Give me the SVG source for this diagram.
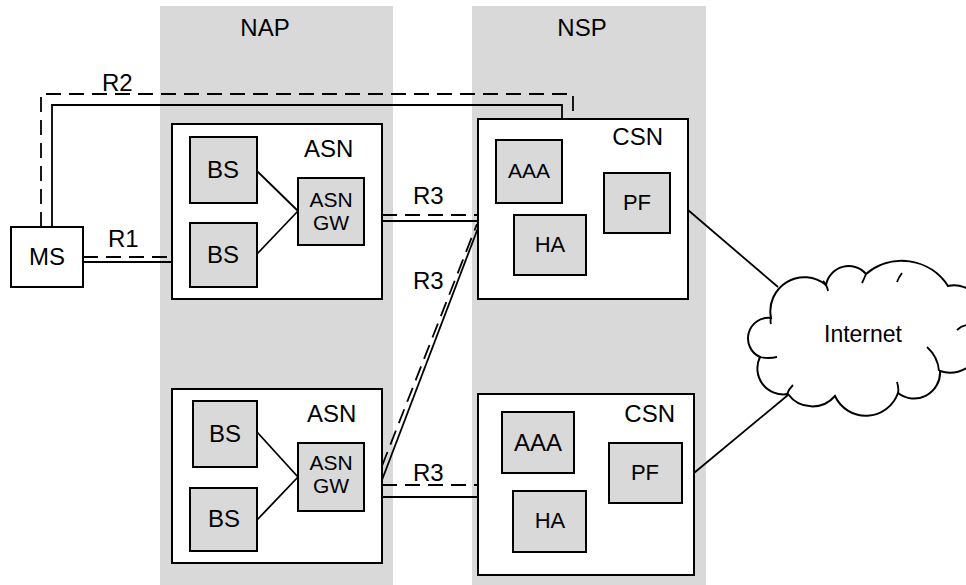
<svg xmlns="http://www.w3.org/2000/svg" width="966" height="585" viewBox="0 0 966 585">
<style>
text{font-family:"Liberation Sans",Arial,sans-serif;fill:#000}
.band{fill:#d9d9d9}
.box{fill:#fff;stroke:#000;stroke-width:2}
.el{fill:#d9d9d9;stroke:#000;stroke-width:2}
.ln{fill:none;stroke:#000;stroke-width:1.8}
.ds{fill:none;stroke:#000;stroke-width:1.8;stroke-dasharray:15 8}
.big{font-size:24px}
.mid{font-size:22px}
.c{text-anchor:middle}
.e{text-anchor:end}
</style>
<g id="bands">
<rect class="band" x="160" y="6" width="233" height="579"/>
<rect class="band" x="472" y="6" width="234" height="579"/>
<text class="big c" x="265" y="36">NAP</text>
<text class="big c" x="582" y="36">NSP</text>
</g>
<g id="connectors">
<path class="ds" d="M41,227 V94 H573 V119"/>
<path class="ln" d="M52,227 V105 H562 V119"/>
<line class="ds" x1="83" y1="257" x2="172" y2="257"/>
<line class="ln" x1="83" y1="262" x2="172" y2="262"/>
<line class="ds" x1="382" y1="215" x2="478" y2="215"/>
<line class="ln" x1="382" y1="221" x2="478" y2="221"/>
<line class="ds" x1="382" y1="466" x2="477" y2="224"/>
<line class="ln" x1="382" y1="480" x2="478" y2="228"/>
<line class="ds" x1="382" y1="485" x2="478" y2="485"/>
<line class="ln" x1="382" y1="497" x2="478" y2="497"/>
<line class="ln" x1="688" y1="210" x2="778" y2="287"/>
<line class="ln" x1="694" y1="473" x2="788" y2="395"/>
<text class="big" x="102" y="91">R2</text>
<text class="big" x="108" y="247">R1</text>
<text class="big" x="413" y="204">R3</text>
<text class="big" x="413" y="289">R3</text>
<text class="big" x="413" y="481">R3</text>
</g>
<g id="ms">
<rect class="box" x="11" y="227" width="72" height="60"/>
<text class="big c" x="47" y="265">MS</text>
</g>
<g id="asn1">
<rect class="box" x="172" y="124" width="210" height="175"/>
<text class="big" x="304" y="157">ASN</text>
<line class="ln" x1="257" y1="171" x2="298" y2="211"/>
<line class="ln" x1="257" y1="254" x2="298" y2="211"/>
<g id="asn1-bs1"><rect class="el" x="190" y="137" width="67" height="66"/><text class="big c" x="223" y="178">BS</text></g>
<g id="asn1-bs2"><rect class="el" x="190" y="223" width="67" height="64"/><text class="big c" x="223" y="263">BS</text></g>
<g id="asn1-gw"><rect class="el" x="298" y="178" width="66" height="67"/><text class="c" style="font-size:21px" x="331" y="207">ASN</text><text class="c" style="font-size:21px" x="331" y="230">GW</text></g>
</g>
<g id="asn2">
<rect class="box" x="172" y="389" width="210" height="174"/>
<text class="big" x="307" y="422">ASN</text>
<line class="ln" x1="257" y1="432" x2="298" y2="477"/>
<line class="ln" x1="257" y1="520" x2="298" y2="477"/>
<g id="asn2-bs1"><rect class="el" x="193" y="401" width="64" height="66"/><text class="big c" x="225" y="442">BS</text></g>
<g id="asn2-bs2"><rect class="el" x="190" y="488" width="67" height="63"/><text class="big c" x="224" y="527">BS</text></g>
<g id="asn2-gw"><rect class="el" x="298" y="443" width="66" height="68"/><text class="c" style="font-size:21px" x="331" y="470">ASN</text><text class="c" style="font-size:21px" x="331" y="493">GW</text></g>
</g>
<g id="csn1">
<rect class="box" x="478" y="119" width="210" height="180"/>
<text class="big e" x="663" y="145">CSN</text>
<g id="csn1-aaa"><rect class="el" x="496" y="140" width="66" height="63"/><text class="c" style="font-size:21px" x="529" y="178">AAA</text></g>
<g id="csn1-ha"><rect class="el" x="514" y="215" width="72" height="60"/><text class="mid c" x="550" y="252">HA</text></g>
<g id="csn1-pf"><rect class="el" x="604" y="173" width="66" height="60"/><text class="mid c" x="637" y="210">PF</text></g>
</g>
<g id="csn2">
<rect class="box" x="478" y="394" width="216" height="181"/>
<text class="big e" x="675" y="422">CSN</text>
<g id="csn2-aaa"><rect class="el" x="502" y="412" width="72" height="61"/><text class="big c" x="538" y="451">AAA</text></g>
<g id="csn2-ha"><rect class="el" x="513" y="491" width="73" height="61"/><text class="mid c" x="550" y="528">HA</text></g>
<g id="csn2-pf"><rect class="el" x="609" y="443" width="73" height="60"/><text class="mid c" x="645" y="480">PF</text></g>
</g>
<g id="internet">
<path fill="#fff" stroke="#000" stroke-width="2" d="M771,318 A34,34 0 0 1 826,285 A23,23 0 0 1 866,274 A55,55 0 0 1 948,286 A28,28 0 0 1 978,328 A31,31 0 0 1 940,371 A26,26 0 0 1 898,393 A34,34 0 0 1 835,396 A30,30 0 0 1 788,394 A26,26 0 0 1 760,357 A20.5,20.5 0 0 1 771,318 Z"/>
<path class="ln" stroke-width="1.8" d="M823,281 q4,4 5,10 M866,274 q-2,5 -4,9 M897,282 q2,-5 5,-9 M957,330 q4,-4 10,-5 M927,347 q11,10 12,24 M897,382 q2,6 1,12 M787,394 q2,-5 6,-9 M760,357 q8,2 17,0 M771,318 q-1,3 0,6"/>
<text class="big c" x="863" y="342" style="font-size:23px">Internet</text>
</g>
</svg>
